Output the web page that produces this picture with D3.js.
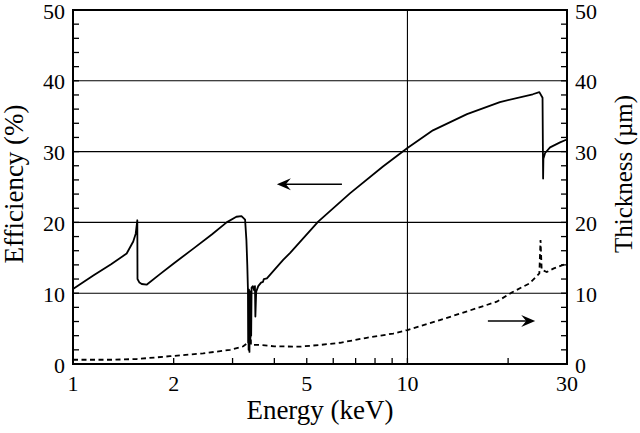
<!DOCTYPE html>
<html><head><meta charset="utf-8">
<script src="https://cdn.jsdelivr.net/npm/d3@7"></script>
</head><body style="margin:0"><svg id="c" width="640" height="433" style="display:block;font-family:'Liberation Serif'"></svg>
<script>
// Efficiency curve (left axis, %)
const effEnergy = [1.00,1.15,1.30,1.447,1.514,1.54,1.557,1.559,1.58,1.605,1.66,1.82,2.00,2.29,2.60,2.88,3.08,3.19,3.27,3.30,3.32,3.335,3.34,3.345,3.35,3.36,3.37,3.38,3.39,3.40,3.41,3.42,3.45,3.48,3.50,3.51,3.53,3.58,3.65,3.70,3.72,3.80,4.00,4.25,4.46,5.41,6.73,8.45,10.0,11.92,15.07,18.9,23.7,24.8,25.35,25.45,25.5,25.8,26.7,28.6,29.6,30.0];
const effValue  = [10.6,12.5,14.1,15.6,17.3,18.4,20.3,12.0,11.5,11.3,11.2,12.7,14.2,16.3,18.3,20.0,20.8,20.9,20.4,17.5,14.0,10.5,3.0,10.0,2.0,10.5,1.7,10.0,3.0,10.3,4.0,10.8,11.0,10.4,11.0,6.7,10.2,11.0,11.5,11.6,12.0,12.1,13.3,14.7,15.7,20.1,24.1,27.9,30.5,33.0,35.3,37.0,38.1,38.4,37.6,26.2,29.0,29.8,30.6,31.3,31.6,31.7];
// Thickness curve (right axis, µm)
const thkEnergy = [1.00,1.30,1.55,1.95,2.45,2.95,3.23,3.33,3.40,3.405,3.60,4.00,4.77,5.50,6.29,7.55,9.07,10.0,12.5,15.0,18.5,20.5,23.2,24.8,25.0,25.2,26.1,27.4,29.6,30.0];
const thkValue  = [0.6,0.6,0.7,1.1,1.5,2.0,2.5,3.0,3.9,2.7,2.7,2.5,2.45,2.7,3.0,3.7,4.3,4.8,6.2,7.4,8.8,10.1,11.4,12.8,17.5,13.3,13.0,13.5,14.1,14.2];

const xTickValues = [1,2,5,10,30];
const xMinorTicks = [3,4,6,7,8,9,20];
const yTickValues = [0,10,20,30,40,50];
const yMinorTicks = [2,4,6,8,12,14,16,18,22,24,26,28,32,34,36,38,42,44,46,48];
const yGridValues = [10,20,30,40];
const xGridValues = [10];
// arrows in data units (energy from -> to, value)
const leftArrow = {from:6.37, to:4.07, value:25.4};
const rightArrow = {from:17.4, to:24.1, value:6.07};

const FONT = "Liberation Serif";
const W=640,H=433;
const m={l:73,r:73,t:10,b:69};
const svg=d3.select("#c");
const x=d3.scaleLog().domain([1,30]).range([m.l,W-m.r]);
const yL=d3.scaleLinear().domain([0,50]).range([H-m.b,m.t]);
const yR=d3.scaleLinear().domain([0,50]).range([H-m.b,m.t]);

// grid
svg.selectAll(".hg").data(yGridValues).enter().append("line")
 .attr("x1",x(1)).attr("x2",x(30)).attr("y1",d=>yL(d)).attr("y2",d=>yL(d))
 .attr("stroke","#000").attr("stroke-width",1.1);
svg.selectAll(".vg").data(xGridValues).enter().append("line")
 .attr("x1",d=>x(d)).attr("x2",d=>x(d)).attr("y1",yL(0)).attr("y2",yL(50))
 .attr("stroke","#000").attr("stroke-width",1.1);

// ticks and labels drawn via the scales
function tickLabels(vals, xf, yf, anchor){
  svg.append("g").selectAll("text").data(vals).enter().append("text")
   .attr("x",xf).attr("y",yf).attr("text-anchor",anchor)
   .style("font-family",FONT).style("font-size","22px").attr("fill","#000")
   .text(d=>d);
}
function tickMarks(vals, horizontal, pos, len){
  svg.append("g").selectAll("line").data(vals).enter().append("line")
   .attr("x1",d=>horizontal? x(d): pos).attr("x2",d=>horizontal? x(d): pos+len)
   .attr("y1",d=>horizontal? pos: yL(d)).attr("y2",d=>horizontal? pos+len: yL(d))
   .attr("stroke","#000").attr("stroke-width",1.3);
}
tickMarks(xTickValues.concat(xMinorTicks), true, yL(0), -6);
tickMarks(yTickValues.concat(yMinorTicks), false, x(1), 6);
tickMarks(yTickValues.concat(yMinorTicks), false, x(30), -6);
tickLabels(xTickValues, d=>x(d), yL(0)+27, "middle");
tickLabels(yTickValues, x(1)-8, d=>yL(d)+8.5, "end");
tickLabels(yTickValues, x(30)+8, d=>yR(d)+8.5, "start");

// frame
svg.append("rect").attr("x",x(1)).attr("y",yL(50)).attr("width",x(30)-x(1)).attr("height",yL(0)-yL(50))
 .attr("fill","none").attr("stroke","#000").attr("stroke-width",2);

// curves
const effData=effEnergy.map((e,i)=>[e,effValue[i]]);
const thkData=thkEnergy.map((e,i)=>[e,thkValue[i]]);
svg.append("path").datum(effData)
 .attr("d",d3.line().x(d=>x(d[0])).y(d=>yL(d[1])))
 .attr("fill","none").attr("stroke","#000").attr("stroke-width",1.8).attr("stroke-linejoin","round");
svg.append("path").datum(thkData)
 .attr("d",d3.line().x(d=>x(d[0])).y(d=>yR(d[1])))
 .attr("fill","none").attr("stroke","#000").attr("stroke-width",1.8).attr("stroke-dasharray","5,3.5");

// arrows
function arrow(a,ys){
  const x1=x(a.from),x2=x(a.to),yy=ys(a.value);
  const dir=Math.sign(x2-x1);
  svg.append("line").attr("x1",x1).attr("x2",x2-dir*8).attr("y1",yy).attr("y2",yy)
   .attr("stroke","#000").attr("stroke-width",1.5);
  svg.append("path").attr("d",`M${x2},${yy} L${x2-dir*14},${yy-6} L${x2-dir*9},${yy} L${x2-dir*14},${yy+6} Z`)
   .attr("fill","#000");
}
arrow(leftArrow,yL);
arrow(rightArrow,yR);

// titles
svg.append("text").attr("x",(x(1)+x(30))/2).attr("y",419).attr("text-anchor","middle")
 .style("font-family",FONT).style("font-size","27px").text("Energy (keV)");
svg.append("text").attr("transform",`translate(23,184) rotate(-90)`).attr("text-anchor","middle")
 .style("font-family",FONT).style("font-size","27px").text("Efficiency (%)");
svg.append("text").attr("transform",`translate(632,174) rotate(-90)`).attr("text-anchor","middle")
 .style("font-family",FONT).style("font-size","25px").text("Thickness (µm)");
</script>
</body></html>
